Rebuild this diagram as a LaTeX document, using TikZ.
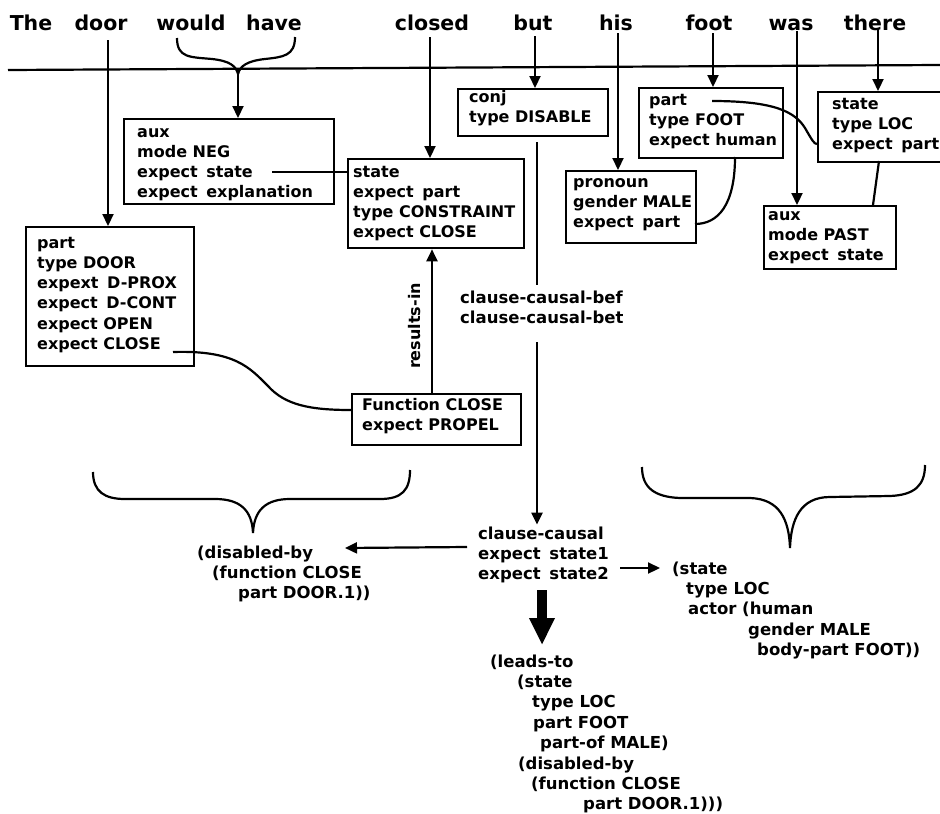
\documentclass[tikz,border=0pt]{standalone}
\usepackage{fontspec}
\newfontfamily\dfont{DejaVu Sans}
\usetikzlibrary{arrows.meta}
\newcommand\gp{\hspace{3pt}}
\tikzset{
  box/.style={draw, line width=2.3pt, inner sep=0pt, anchor=north west},
  txt/.style={font=\dfont\bfseries\fontsize{16}{20.3}\selectfont, align=left, inner sep=0pt, anchor=north west},
  ftxt/.style={font=\dfont\bfseries\fontsize{16.5}{20.4}\selectfont, align=left, inner sep=0pt, anchor=north west},
  word/.style={font=\dfont\bfseries\fontsize{20.5}{24}\selectfont, inner sep=0pt, anchor=base},
  con/.style={line width=2.2pt},
  arr/.style={con, -{Triangle[length=12pt,width=11pt]}},
  big/.style={line width=10pt, -{Triangle[length=27pt,width=24pt]}},
}
\begin{document}
\begin{tikzpicture}[x=1pt,y=-1pt]
\fill[white] (0,0) rectangle (940,814);
\useasboundingbox (0,0) rectangle (940,814);

% sentence words
\node[word] (wThe) at (31,30) {The};
\node[word] (wdoor) at (101,30) {door};
\node[word] (wwould) at (191,30) {would};
\node[word] (whave) at (274,30) {have};
\node[word] (wclosed) at (432,30) {closed};
\node[word] (wbut) at (533,30) {but};
\node[word] (whis) at (616,30) {his};
\node[word] (wfoot) at (709,30) {foot};
\node[word] (wwas) at (791,30) {was};
\node[word] (wthere) at (875,30) {there};

% rule
\coordinate (rl) at (8,70);
\coordinate (rr) at (940,65);
\draw[con] (rl) -- (rr);

% boxes
\node[box, minimum width=168pt, minimum height=139pt] (partB) at (25,226) {};
\node[box, minimum width=210pt, minimum height=85pt] (auxB) at (123,118) {};
\node[box, minimum width=176pt, minimum height=89pt] (stB) at (347,158) {};
\node[box, minimum width=169pt, minimum height=51pt] (fnB) at (351,393) {};
\node[box, minimum width=150pt, minimum height=47pt] (cjB) at (457,88) {};
\node[box, minimum width=130pt, minimum height=72pt] (prB) at (565,170) {};
\node[box, minimum width=144pt, minimum height=70pt] (ftB) at (638,87) {};
\node[box, minimum width=135pt, minimum height=70pt] (lcB) at (817,91) {};
\node[box, minimum width=132pt, minimum height=63pt] (psB) at (763,205) {};

% box texts
\node[txt] (partT) at (37,233.6) {\strut part\\type DOOR\\expext\gp{} D-PROX\\expect\gp{} D-CONT\\expect OPEN\\expect CLOSE};
\node[txt] (auxT) at (137,122.6) {\strut aux\\mode NEG\\expect\gp{} state\\expect\gp{} explanation};
\node[txt] (stT) at (353,162.6) {\strut state\\expect\gp{} part\\type CONSTRAINT\\expect CLOSE};
\node[txt] (fnT) at (362,395.6) {\strut Function CLOSE\\expect PROPEL};
\node[txt] (cjT) at (469,87.6) {\strut conj\\type DISABLE};
\node[txt] (prT) at (573,172.6) {\strut pronoun\\gender MALE\\expect\gp{} part};
\node[txt] (ftT) at (649,90.6) {\strut part\\type FOOT\\expect human};
\node[txt] (lcT) at (832,94.6) {\strut state\\type LOC\\expect\gp{} part};
\node[txt] (psT) at (768,205.6) {\strut aux\\mode PAST\\expect\gp{} state};

% free texts
\node[ftxt] (cbT) at (460,288.6) {\strut clause-causal-bef\\clause-causal-bet};
\node[ftxt] (ccT) at (478,524.6) {\strut clause-causal\\expect\gp{} state1\\expect\gp{} state2};
\node[ftxt] (dbT) at (197,543.6) {\strut (disabled-by\\\hspace*{15pt}(function CLOSE\\\hspace*{41pt}part DOOR.1))};
\node[ftxt] (stR) at (672,559.6) {\strut (state\\\hspace*{14pt}type LOC\\\hspace*{16pt}actor (human\\\hspace*{76pt}gender MALE\\\hspace*{85pt}body-part FOOT))};
\node[ftxt] (ltT) at (490,652.6) {\strut (leads-to\\\hspace*{27pt}(state\\\hspace*{42pt}type LOC\\\hspace*{43pt}part FOOT\\\hspace*{50pt}part-of MALE)\\\hspace*{28pt}(disabled-by\\\hspace*{41pt}(function CLOSE\\\hspace*{93pt}part DOOR.1)))};
\node[font=\dfont\bfseries\fontsize{16}{20}\selectfont, inner sep=0pt, rotate=90] (rin) at (415,326) {results-in};

% word arrows
\coordinate (aDoor) at (108,40);
\draw[arr] (aDoor) -- (aDoor |- partB.north);
\coordinate (wL) at (177,38);
\coordinate (wR) at (295,37);
\coordinate (wM) at (238,74);
\draw[con] (wL) .. controls (177,58) and (190,57) .. (212,59) .. controls (230,61) and (236,66) .. (wM);
\draw[con] (wR) .. controls (295,56) and (283,57) .. (265,59) .. controls (247,61) and (240,66) .. (wM);
\draw[arr] (wM) -- (wM |- auxB.north);
\coordinate (aClosed) at (430,37);
\draw[arr] (aClosed) -- (aClosed |- stB.north);
\coordinate (aBut) at (535,36);
\draw[arr] (aBut) -- (aBut |- cjB.north);
\coordinate (aHis) at (618,33);
\draw[arr] (aHis) -- (aHis |- prB.north);
\coordinate (aFoot) at (713,33);
\draw[arr] (aFoot) -- (aFoot |- ftB.north);
\coordinate (aWas) at (797,31);
\draw[arr] (aWas) -- (aWas |- psB.north);
\coordinate (aThere) at (878,29);
\draw[arr] (aThere) -- (aThere |- lcB.north);

% links between boxes
\coordinate (eS) at (272,172);
\draw[con] (eS) -- (eS -| stB.west);
\coordinate (eC) at (173,352);
\coordinate (fnL) at (351,410);
\draw[con] (eC) .. controls (235,350) and (250,368) .. (268,386) .. controls (285,405) and (310,410) .. (fnL);
\coordinate (rS) at (432,400);
\draw[arr] (rS |- fnB.north) -- (rS |- stB.south);
\coordinate (b1) at (537,142);
\coordinate (b2) at (537,285);
\coordinate (b3) at (537,342);
\draw[con] (b1) -- (b2);
\draw[arr] (b3) -- (b3 |- ccT.north);
\coordinate (fB) at (735,157);
\coordinate (prE) at (695,224);
\draw[con] (fB) .. controls (735,205) and (718,224) .. (prE);
\coordinate (fP) at (712,101);
\coordinate (lP) at (817,144);
\draw[con] (fP) .. controls (775,101) and (795,112) .. (805,128) .. controls (812,140) and (814,144) .. (lP);
\coordinate (lB) at (879,161);
\coordinate (pT) at (873,205);
\draw[con] (lB) -- (pT);

% braces
\draw[con] (93,472) .. controls (93,492) and (105,499) .. (125,499) -- (215,499) .. controls (240,499) and (252,510) .. (253,533) .. controls (254,510) and (266,499) .. (290,499) -- (380,499) .. controls (402,499) and (410,490) .. (410,470);
\draw[con] (642,467) .. controls (642,488) and (655,497) .. (680,498) -- (750,498) .. controls (780,499) and (789,520) .. (790,548) .. controls (791,520) and (800,497) .. (830,497) -- (890,496) .. controls (915,495) and (925,485) .. (925,465);

% result arrows
\coordinate (la) at (467,547);
\coordinate (lt) at (345,548);
\draw[arr] (la) -- (lt);
\coordinate (ra) at (620,568);
\coordinate (rt) at (660,568);
\draw[arr] (ra) -- (rt);
\coordinate (bs) at (542,590);
\coordinate (be) at (542,645);
\draw[big] (bs) -- (be);
\end{tikzpicture}
\end{document}
